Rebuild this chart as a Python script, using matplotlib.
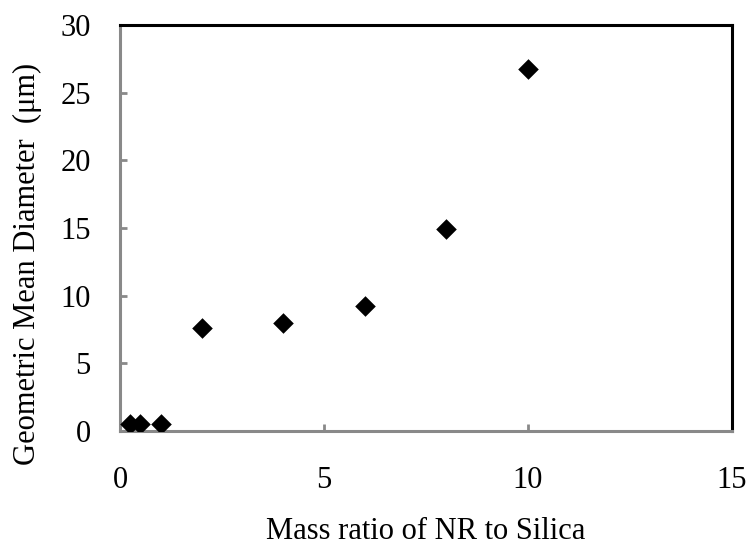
import matplotlib
matplotlib.use("Agg")
import matplotlib.pyplot as plt

mass_ratio = [0.25, 0.5, 1.0, 2.0, 4.0, 6.0, 8.0, 10.0]
diameter = [0.5, 0.5, 0.5, 7.6, 8.0, 9.25, 14.95, 26.75]
x_ticks = [0, 5, 10, 15]
y_ticks = [0, 5, 10, 15, 20, 25, 30]

plt.rcParams['font.family'] = ['Liberation Serif', 'DejaVu Serif']
fig = plt.figure(figsize=(7.48, 5.47), dpi=100)
ax = fig.add_axes([120/748, 1-431/547, 612/748, 406/547])
ax.scatter(mass_ratio, diameter, marker='D', s=110, color='black', zorder=3, linewidths=0)
ax.set_xlim(0, 15)
ax.set_ylim(0, 30)
ax.set_xticks(x_ticks)
ax.set_yticks(y_ticks)
grey = '#898989'
ax.spines['left'].set_color(grey)
ax.spines['bottom'].set_color(grey)
ax.spines['top'].set_color('black')
ax.spines['right'].set_color('black')
for s in ax.spines.values():
    s.set_linewidth(2.2)
ax.tick_params(direction='in', length=5, width=2, color=grey, labelsize=22, pad=21)
ax.tick_params(axis='x', pad=25)
ax.set_xlabel('Mass ratio of NR to Silica', fontsize=22, labelpad=16)
ax.set_ylabel('Geometric Mean Diameter  (μm)', fontsize=22)
ax.yaxis.set_label_coords(-0.127, 0.411)
fig.savefig('out.png', dpi=100)
